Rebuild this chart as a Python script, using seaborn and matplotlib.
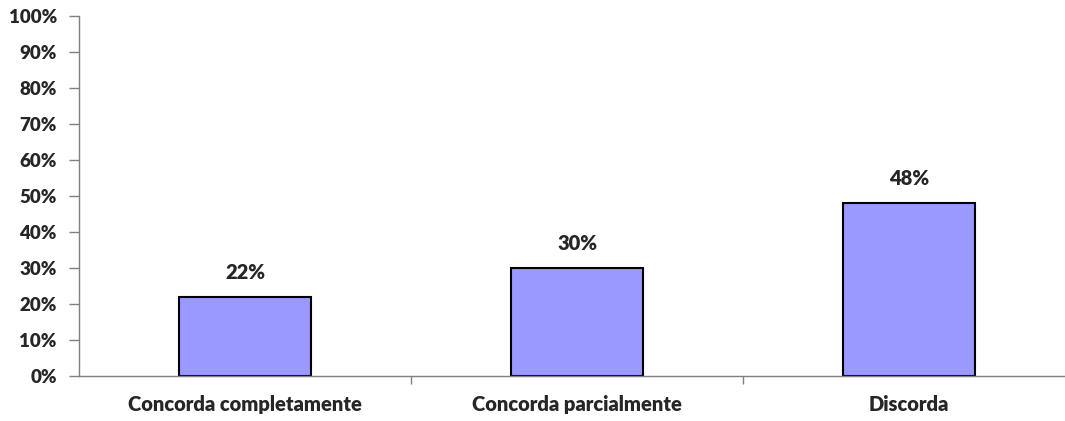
import matplotlib
matplotlib.use("Agg")
import matplotlib.pyplot as plt
import seaborn as sns
import pandas as pd
from matplotlib.ticker import MultipleLocator, FuncFormatter, FixedLocator

categories = ["Concorda completamente", "Concorda parcialmente", "Discorda"]
values = [22, 30, 48]

df = pd.DataFrame({"categoria": categories, "valor": values})

sns.set_style("white")
plt.rcParams["font.family"] = ["Lato", "DejaVu Sans"]
plt.rcParams["font.weight"] = "bold"

FS = 14.5
FS_Y = 13.5

fig = plt.figure(figsize=(10.65, 4.21), dpi=100)
# axes extend slightly past the right edge of the canvas
ax = fig.add_axes([79 / 1065, 45 / 421, 996 / 1065, 360 / 421])

sns.barplot(data=df, x="categoria", y="valor", color="#9999FF", width=0.4,
            edgecolor="black", linewidth=1.5, saturation=1, ax=ax)

ax.set_xlim(-0.5, 2.5)
ax.set_ylim(0, 100)
ax.yaxis.set_major_locator(MultipleLocator(10))
ax.yaxis.set_major_formatter(FuncFormatter(lambda v, p: f"{int(v)}%"))
ax.set_xlabel("")
ax.set_ylabel("")

for s in ["top", "right"]:
    ax.spines[s].set_visible(False)
for s in ["left", "bottom"]:
    ax.spines[s].set_color("#808080")
    ax.spines[s].set_linewidth(1.0)

ax.tick_params(axis="y", which="major", left=True, length=7, width=1,
               color="#808080", labelsize=FS_Y, pad=9)
ax.tick_params(axis="x", which="major", bottom=False, labelsize=FS, pad=10)
ax.xaxis.set_minor_locator(FixedLocator([0.5, 1.5]))
ax.tick_params(axis="x", which="minor", bottom=True, length=6, width=1,
               color="#808080")

for lbl in ax.get_xticklabels() + ax.get_yticklabels():
    lbl.set_fontweight("heavy")

for i, v in enumerate(values):
    ax.annotate(f"{v}%", (i, v), xytext=(0, 11), textcoords="offset points",
                ha="center", va="bottom", fontsize=FS, fontweight="heavy")

fig.savefig("out.png", dpi=100)
